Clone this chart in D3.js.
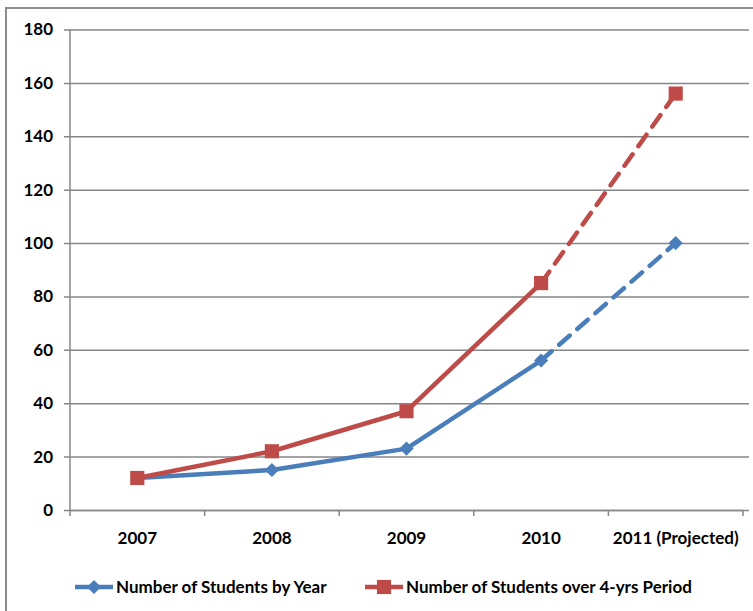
<!DOCTYPE html>
<meta charset="utf-8">
<script src="https://d3js.org/d3.v7.min.js"></script>
<style>
    body { margin: 0; background: #fff; font-family: 'Lato', 'Liberation Sans', sans-serif; }
    text { font-weight: bold; fill: #000; }
</style>
<div id="my_dataviz"></div>
<script>
    // data
    var years = ["2007", "2008", "2009", "2010", "2011 (Projected)"];
    var byYear = [12, 15, 23, 56, 100];
    var overPeriod = [12, 22, 37, 85, 156];
    var yTicks = [0, 20, 40, 60, 80, 100, 120, 140, 160, 180];
    var seriesNames = ["Number of Students by Year", "Number of Students over 4-yrs Period"];
    var colors = ["#4a7ebb", "#be4b48"];

    var W = 753, H = 611;
    var margin = {top: 29.5, right: 10, bottom: 101, left: 70},
        width = 743 - margin.left,
        height = H - margin.top - margin.bottom;

    var root = d3.select("#my_dataviz").append("svg")
        .attr("width", W).attr("height", H);

    // chart frame (right and bottom edges fall outside the picture)
    root.append("rect")
        .attr("x", 6).attr("y", 8).attr("width", W + 10).attr("height", H + 10)
        .attr("fill", "none").attr("stroke", "#8c8c8c").attr("stroke-width", 2);

    var svg = root.append("g")
        .attr("transform", "translate(" + margin.left + "," + margin.top + ")");

    var x = d3.scaleBand().domain(years).range([0, width]);
    var y = d3.scaleLinear().domain([0, 180]).range([height, 0]);

    // gridlines + y axis
    var yAxis = svg.append("g")
        .call(d3.axisLeft(y).tickValues(yTicks).tickSize(-width - 6).tickSizeOuter(0));
    yAxis.select(".domain").remove();
    yAxis.selectAll(".tick line")
        .attr("x1", -6)
        .attr("stroke", "#868686").attr("stroke-width", 1.5);
    yAxis.selectAll(".tick text")
        .style("font-size", "17px").style("font-family", "Lato, sans-serif").style("font-weight", "bold")
        .attr("x", -17);

    svg.append("line")
        .attr("x1", 0).attr("x2", 0).attr("y1", 0).attr("y2", height)
        .attr("stroke", "#868686").attr("stroke-width", 1.5);

    // x axis
    var xAxis = svg.append("g")
        .attr("transform", "translate(0," + height + ")")
        .call(d3.axisBottom(x).tickSize(0).tickPadding(22));
    xAxis.select(".domain").attr("stroke", "#868686").attr("stroke-width", 1.5);
    xAxis.selectAll(".tick text")
        .style("font-size", "17px").style("font-family", "Lato, sans-serif").style("font-weight", "bold");
    svg.append("g").selectAll("line")
        .data(d3.range(years.length + 1))
        .enter().append("line")
        .attr("x1", function(i) { return i * x.step(); })
        .attr("x2", function(i) { return i * x.step(); })
        .attr("y1", height).attr("y2", height + 6)
        .attr("stroke", "#868686").attr("stroke-width", 1.5);

    var cx = function(i) { return x(years[i]) + x.bandwidth() / 2; };
    var line = d3.line()
        .x(function(d) { return cx(d.i); })
        .y(function(d) { return y(d.v); });

    // marker shapes: diamond = square turned 45 degrees
    var marker = function(s) {
        return s === 0 ? d3.symbol().type(d3.symbolSquare).size(100)() : d3.symbol().type(d3.symbolSquare).size(200)();
    };
    var turn = function(s) { return s === 0 ? " rotate(45)" : ""; };

    var allSeries = [byYear, overPeriod];
    allSeries.forEach(function(vals, s) {
        var pts = vals.map(function(v, i) { return {i: i, v: v}; });
        var last = pts.length - 1;
        svg.append("path")
            .datum(pts.slice(0, last))
            .attr("fill", "none").attr("stroke", colors[s]).attr("stroke-width", 4.5)
            .attr("stroke-linejoin", "round")
            .attr("d", line);
        svg.append("path")
            .datum(pts.slice(last - 1))
            .attr("fill", "none").attr("stroke", colors[s]).attr("stroke-width", 4.5)
            .attr("stroke-dasharray", "14,10").attr("stroke-linecap", "round")
            .attr("d", line);
        svg.selectAll(".m" + s)
            .data(pts).enter().append("path")
            .attr("transform", function(d) { return "translate(" + cx(d.i) + "," + y(d.v) + ")" + turn(s); })
            .attr("d", marker(s))
            .attr("fill", colors[s]);
    });

    // legend
    var legendX = [75, 365];
    var legend = root.selectAll(".leg")
        .data(seriesNames).enter().append("g")
        .attr("transform", function(d, i) { return "translate(" + legendX[i] + ",587)"; });
    legend.append("line")
        .attr("x1", 0).attr("x2", 38)
        .attr("stroke", function(d, i) { return colors[i]; }).attr("stroke-width", 4.5);
    legend.append("path")
        .attr("transform", function(d, i) { return "translate(19,0)" + turn(i); })
        .attr("d", function(d, i) { return marker(i); })
        .attr("fill", function(d, i) { return colors[i]; });
    legend.append("text")
        .attr("x", 41).attr("dy", "0.35em")
        .style("font-size", "17px")
        .text(function(d) { return d; });
</script>
